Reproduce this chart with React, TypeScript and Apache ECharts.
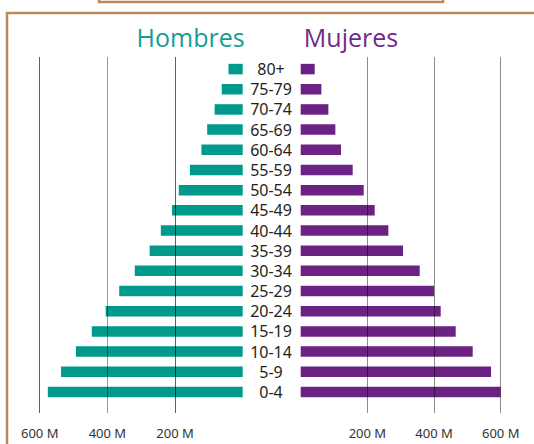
import React, { useEffect, useRef } from 'react';
import * as echarts from 'echarts';

// Age groups, bottom to top
const ageGroups = ['0-4', '5-9', '10-14', '15-19', '20-24', '25-29', '30-34', '35-39', '40-44', '45-49', '50-54', '55-59', '60-64', '65-69', '70-74', '75-79', '80+'];
// Millions
const hombres = [576, 537, 493, 446, 405, 365, 319, 275, 242, 209, 189, 156, 122, 105, 83, 62, 42];
const mujeres = [600, 571, 516, 465, 420, 400, 357, 307, 263, 222, 189, 156, 121, 104, 83, 62, 42];
const axisMax = 600;
const axisStep = 200;
const tickSuffix = ' M';
const titleMen = 'Hombres';
const titleWomen = 'Mujeres';

const TEAL = '#009a8c';
const PURPLE = '#6b2283';
const FRAME = '#b98a5a';

export default function App() {
  const ref = useRef<HTMLDivElement>(null);
  useEffect(() => {
    if (!ref.current) return;
    const chart = echarts.init(ref.current, null, { renderer: 'svg' });
    const tickLabel = {
      formatter: (v: number) => (v === 0 ? '' : v + tickSuffix),
      margin: 13,
      color: '#333',
      fontSize: 13,
      fontFamily: 'Noto Sans',
    };
    const lineAxisBase = {
      type: 'value',
      min: 0,
      max: axisMax,
      interval: axisStep,
      z: 5,
      axisLine: { show: false },
      axisTick: { show: false },
      axisLabel: tickLabel,
    };
    chart.setOption({
      animation: false,
      backgroundColor: '#fff',
      grid: [
        { left: 39.7, width: 203, top: 59, height: 343 },
        { left: 300.7, width: 200, top: 59, height: 343 },
        { left: 39.7, width: 203, top: 57, height: 356 },
        { left: 300.7, width: 200, top: 57, height: 356 },
      ],
      xAxis: [
        { gridIndex: 0, type: 'value', inverse: true, min: 0, max: axisMax, show: false },
        { gridIndex: 1, type: 'value', min: 0, max: axisMax, show: false },
        {
          ...lineAxisBase,
          gridIndex: 2,
          inverse: true,
          splitLine: {
            show: true,
            lineStyle: { width: 1, color: ['rgba(0,0,0,0)', 'rgba(0,0,0,0.62)', 'rgba(0,0,0,0.4)', 'rgba(0,0,0,0.62)'] },
          },
        },
        {
          ...lineAxisBase,
          gridIndex: 3,
          splitLine: {
            show: true,
            lineStyle: { width: 1, color: ['rgba(0,0,0,0)', 'rgba(0,0,0,0.45)', 'rgba(0,0,0,0.45)', 'rgba(0,0,0,0.45)'] },
          },
        },
      ],
      yAxis: [
        {
          gridIndex: 0,
          type: 'category',
          data: ageGroups,
          position: 'right',
          axisLine: { show: false },
          axisTick: { show: false },
          splitLine: { show: false },
          axisLabel: { interval: 0, align: 'center', margin: 28.3, fontSize: 16, color: '#231f20', fontFamily: 'Noto Sans' },
        },
        { gridIndex: 1, type: 'category', data: ageGroups, show: false },
        { gridIndex: 2, type: 'value', min: 0, max: 1, show: false },
        { gridIndex: 3, type: 'value', min: 0, max: 1, show: false },
      ],
      series: [
        { type: 'bar', name: titleMen, xAxisIndex: 0, yAxisIndex: 0, data: hombres, barWidth: 10.5, itemStyle: { color: TEAL } },
        { type: 'bar', name: titleWomen, xAxisIndex: 1, yAxisIndex: 1, data: mujeres, barWidth: 10.5, itemStyle: { color: PURPLE } },
      ],
      graphic: [
        { type: 'rect', z: 10, shape: { x: 99, y: -20, width: 344, height: 22 }, style: { fill: 'none', stroke: FRAME, lineWidth: 2.5 } },
        { type: 'rect', z: 10, shape: { x: 7, y: 13, width: 700, height: 700 }, style: { fill: 'none', stroke: FRAME, lineWidth: 2.5 } },
        {
          type: 'text', z: 10, x: 190.6, y: 37,
          style: { text: titleMen, fill: '#149d93', font: '25px "Open Sans"', textAlign: 'center', textVerticalAlign: 'middle', align: 'center', verticalAlign: 'middle' },
        },
        {
          type: 'text', z: 10, x: 351, y: 37,
          style: { text: titleWomen, fill: '#6e2b8c', font: '25px "Open Sans"', textAlign: 'center', textVerticalAlign: 'middle', align: 'center', verticalAlign: 'middle' },
        },
      ],
    });
    return () => chart.dispose();
  }, []);
  return <div ref={ref} style={{ position: 'absolute', left: 0, top: 0, width: 534, height: 444 }} />;
}
